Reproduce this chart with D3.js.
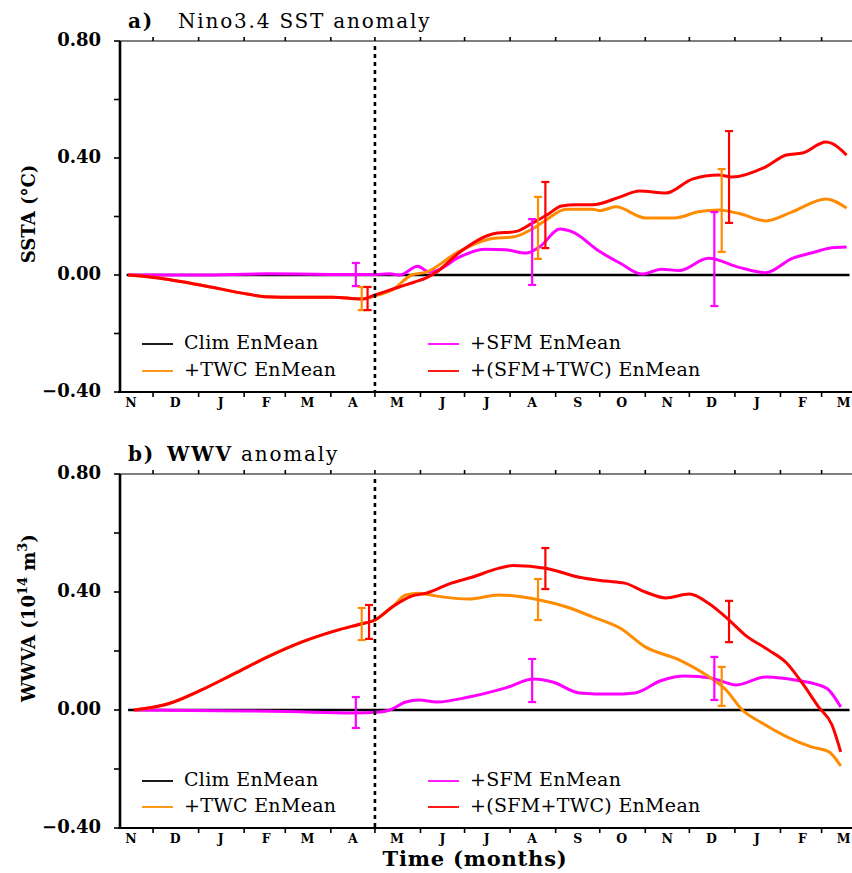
<!DOCTYPE html>
<html>
<head>
<meta charset="utf-8">
<script src="https://cdn.jsdelivr.net/npm/d3@7"></script>
<style>
  body { margin: 0; background: #fff; }
  svg { display: block; font-family: 'DejaVu Serif', serif; }
</style>
</head>
<body>
<svg id="chart" width="852" height="873"></svg>
<script>
'use strict';

// month letters, centred on each month (Nov 2001 .. Mar 2003)
const monthLabels = ['N', 'D', 'J', 'F', 'M', 'A', 'M', 'J', 'J', 'A', 'S', 'O', 'N', 'D', 'J', 'F', 'M'];
const yTicks = [-0.4, -0.2, 0, 0.2, 0.4, 0.6, 0.8];
const legendLabels = ['Clim EnMean', '+TWC EnMean', '+SFM EnMean', '+(SFM+TWC) EnMean'];
const seriesKeys = ['clim', 'twc', 'sfm', 'both'];
const seriesColors = { clim: '#000000', twc: '#ff8c00', sfm: '#ff00ff', both: '#ff0000' };

// a) Nino3.4 SST anomaly
const sstClimDates = ['2001-11-13', '2003-03-20'];
const sstClimValues = [0, 0];
const spinDatesA = ['2001-11-14', '2001-11-29', '2002-01-02', '2002-02-04', '2002-02-15', '2002-03-10', '2002-04-02', '2002-04-22'];
const spinValuesA = [0, -0.007, -0.034, -0.066, -0.074, -0.076, -0.076, -0.082];
const sstTwcDates = ['2002-05-01', '2002-05-13', '2002-05-26', '2002-06-05', '2002-06-27', '2002-07-20', '2002-08-03', '2002-08-17', '2002-08-26', '2002-09-08', '2002-09-26', '2002-10-01', '2002-10-12', '2002-11-01', '2002-11-21', '2002-12-07', '2002-12-21', '2003-01-04', '2003-01-22', '2003-02-09', '2003-03-04', '2003-03-18'];
const sstTwcValues = [-0.072, -0.05, 0, 0.01, 0.08, 0.125, 0.13, 0.16, 0.19, 0.225, 0.225, 0.22, 0.233, 0.195, 0.195, 0.216, 0.222, 0.21, 0.185, 0.216, 0.26, 0.229];
const sstSfmDates = ['2001-11-14', '2002-01-02', '2002-02-17', '2002-04-01', '2002-05-01', '2002-05-11', '2002-05-18', '2002-05-30', '2002-06-07', '2002-06-13', '2002-06-27', '2002-07-15', '2002-07-29', '2002-08-12', '2002-08-21', '2002-09-04', '2002-09-12', '2002-10-01', '2002-10-15', '2002-10-30', '2002-11-12', '2002-11-24', '2002-12-14', '2003-01-04', '2003-01-22', '2003-02-09', '2003-02-22', '2003-03-08', '2003-03-18'];
const sstSfmValues = [0, 0, 0.004, 0.002, 0.002, 0.004, 0, 0.03, 0.01, 0.017, 0.06, 0.088, 0.086, 0.075, 0.096, 0.157, 0.148, 0.08, 0.04, 0.003, 0.02, 0.015, 0.057, 0.026, 0.008, 0.057, 0.075, 0.093, 0.096];
const sstBothDates = ['2002-05-01', '2002-05-18', '2002-05-28', '2002-06-05', '2002-06-12', '2002-06-27', '2002-07-20', '2002-08-06', '2002-08-17', '2002-08-26', '2002-09-05', '2002-09-15', '2002-09-26', '2002-10-15', '2002-10-28', '2002-11-15', '2002-12-03', '2002-12-21', '2002-12-30', '2003-01-22', '2003-02-05', '2003-02-16', '2003-03-04', '2003-03-08', '2003-03-18'];
const sstBothValues = [-0.068, -0.04, -0.024, -0.01, 0.01, 0.075, 0.14, 0.15, 0.18, 0.205, 0.236, 0.24, 0.24, 0.267, 0.287, 0.28, 0.328, 0.342, 0.335, 0.37, 0.41, 0.417, 0.455, 0.45, 0.41];
const sstErrSeries = ['sfm', 'twc', 'both', 'sfm', 'twc', 'both', 'sfm', 'twc', 'both'];
const sstErrDates = ['2002-04-18', '2002-04-22', '2002-04-26', '2002-08-16', '2002-08-20', '2002-08-25', '2002-12-18', '2002-12-23', '2002-12-28'];
const sstErrLow = [-0.038, -0.12, -0.12, -0.034, 0.055, 0.092, -0.106, 0.079, 0.178];
const sstErrHigh = [0.041, -0.041, -0.041, 0.191, 0.267, 0.318, 0.215, 0.362, 0.492];

// b) WWV anomaly
const wwvClimDates = ['2001-11-14', '2003-03-20'];
const wwvClimValues = [0, 0];
const spinDatesB = ['2001-11-18', '2001-12-12', '2002-01-03', '2002-01-26', '2002-02-17', '2002-03-12', '2002-04-05', '2002-04-20', '2002-05-01', '2002-05-13'];
const spinValuesB = [0, 0.022, 0.068, 0.125, 0.18, 0.23, 0.27, 0.29, 0.305, 0.35];
const wwvTwcDates = ['2002-05-22', '2002-05-31', '2002-06-12', '2002-07-04', '2002-07-24', '2002-08-21', '2002-09-08', '2002-09-26', '2002-10-15', '2002-11-01', '2002-11-24', '2002-12-12', '2002-12-26', '2003-01-06', '2003-01-18', '2003-02-05', '2003-02-22', '2003-03-06', '2003-03-14'];
const wwvTwcValues = [0.39, 0.396, 0.386, 0.376, 0.39, 0.373, 0.35, 0.316, 0.277, 0.214, 0.17, 0.12, 0.068, 0, -0.04, -0.09, -0.125, -0.142, -0.19];
const wwvSfmDates = ['2001-11-18', '2002-02-04', '2002-03-03', '2002-04-16', '2002-05-04', '2002-05-11', '2002-05-22', '2002-05-31', '2002-06-12', '2002-07-04', '2002-07-29', '2002-08-17', '2002-08-30', '2002-09-17', '2002-10-09', '2002-10-25', '2002-11-12', '2002-11-28', '2002-12-16', '2003-01-02', '2003-01-22', '2003-02-13', '2003-03-04', '2003-03-14'];
const wwvSfmValues = [0, -0.003, -0.005, -0.01, -0.007, 0, 0.027, 0.034, 0.027, 0.044, 0.075, 0.105, 0.095, 0.058, 0.054, 0.058, 0.1, 0.115, 0.108, 0.085, 0.112, 0.1, 0.075, 0.01];
const wwvBothDates = ['2002-05-26', '2002-06-05', '2002-06-22', '2002-07-06', '2002-07-24', '2002-08-03', '2002-08-26', '2002-09-17', '2002-10-05', '2002-10-18', '2002-11-01', '2002-11-15', '2002-12-01', '2002-12-14', '2002-12-28', '2003-01-08', '2003-01-24', '2003-02-05', '2003-02-16', '2003-02-27', '2003-03-08', '2003-03-14'];
const wwvBothValues = [0.386, 0.396, 0.43, 0.45, 0.48, 0.49, 0.48, 0.45, 0.437, 0.43, 0.4, 0.38, 0.393, 0.362, 0.305, 0.254, 0.203, 0.16, 0.09, 0.01, -0.05, -0.142];
const wwvErrSeries = ['sfm', 'twc', 'both', 'sfm', 'twc', 'both', 'sfm', 'twc', 'both'];
const wwvErrDates = ['2002-04-18', '2002-04-22', '2002-04-27', '2002-08-16', '2002-08-20', '2002-08-25', '2002-12-18', '2002-12-23', '2002-12-28'];
const wwvErrLow = [-0.061, 0.237, 0.241, 0.027, 0.305, 0.41, 0.034, 0.014, 0.23];
const wwvErrHigh = [0.044, 0.346, 0.356, 0.173, 0.444, 0.549, 0.18, 0.146, 0.37];

const parseDate = d3.timeParse('%Y-%m-%d');
const svg = d3.select('#chart');

const x = d3.scaleTime()
	.domain([new Date(2001, 10, 8, 12), new Date(2003, 2, 21)])
	.range([120, 851]);

function zip(dates, values) {
	return dates.map((d, i) => ({ date: parseDate(d), value: values[i] }));
}

function drawPanel(cfg) {
	const y = d3.scaleLinear().domain([-0.4, 0.8]).range([cfg.bottom, cfg.top]);
	const g = svg.append('g');

	// top axis with month ticks
	const monthStarts = d3.timeMonth.range(new Date(2001, 11, 1), new Date(2003, 2, 2));
	g.append('line')
		.attr('x1', 120).attr('x2', 852)
		.attr('y1', cfg.top).attr('y2', cfg.top)
		.attr('stroke', '#555').attr('stroke-width', 1.6);
	g.selectAll('.ttick').data(monthStarts).join('line')
		.attr('x1', d => x(d)).attr('x2', d => x(d))
		.attr('y1', cfg.top).attr('y2', cfg.top - 4)
		.attr('stroke', '#000').attr('stroke-width', 1.6);

	// bottom axis
	g.append('line')
		.attr('x1', 118).attr('x2', 852)
		.attr('y1', cfg.bottom).attr('y2', cfg.bottom)
		.attr('stroke', '#000').attr('stroke-width', 2);
	g.selectAll('.btick').data(monthStarts).join('line')
		.attr('x1', d => x(d)).attr('x2', d => x(d))
		.attr('y1', cfg.bottom).attr('y2', cfg.bottom + 5)
		.attr('stroke', '#000').attr('stroke-width', 1.6);
	const monthMids = d3.timeMonth.range(new Date(2001, 10, 1), new Date(2003, 3, 1)).map(d => d3.timeDay.offset(d, 15));
	g.selectAll('.mlab').data(monthMids).join('text')
		.attr('x', d => x(d))
		.attr('y', cfg.bottom + 11)
		.attr('text-anchor', 'middle')
		.attr('dominant-baseline', 'middle')
		.attr('font-size', 12.5)
		.attr('font-weight', 'bold')
		.text((d, i) => monthLabels[i]);

	// left axis
	g.append('line')
		.attr('x1', 120).attr('x2', 120)
		.attr('y1', cfg.top).attr('y2', cfg.bottom + 1)
		.attr('stroke', '#000').attr('stroke-width', 2.6);
	g.selectAll('.ytick').data(yTicks).join('line')
		.attr('x1', 114).attr('x2', 120)
		.attr('y1', d => y(d)).attr('y2', d => y(d))
		.attr('stroke', '#000').attr('stroke-width', 1.6);
	g.selectAll('.ylab').data(yTicks.filter((d, i) => i % 2 === 0)).join('text')
		.attr('x', 101)
		.attr('y', d => y(d))
		.attr('text-anchor', 'end')
		.attr('dominant-baseline', 'middle')
		.attr('font-size', 18)
		.attr('font-weight', 'bold')
		.text(d => d3.format('.2f')(d));

	// series lines
	const line = d3.line()
		.x(d => x(d.date))
		.y(d => y(d.value))
		.curve(d3.curveMonotoneX);
	for (const key of ['clim', 'sfm', 'twc', 'both']) {
		g.append('path')
			.attr('d', line(cfg.series[key]))
			.attr('fill', 'none')
			.attr('stroke', seriesColors[key])
			.attr('stroke-width', key === 'clim' ? 2.6 : 3)
			.attr('stroke-linejoin', 'round');
	}

	// error bars
	cfg.errDates.forEach((d, i) => {
		const xp = x(parseDate(d));
		const col = seriesColors[cfg.errSeries[i]];
		const eg = g.append('g').attr('stroke', col).attr('stroke-width', 2.2);
		eg.append('line').attr('x1', xp).attr('x2', xp).attr('y1', y(cfg.errLow[i])).attr('y2', y(cfg.errHigh[i]));
		eg.append('line').attr('x1', xp - 4).attr('x2', xp + 4).attr('y1', y(cfg.errLow[i])).attr('y2', y(cfg.errLow[i]));
		eg.append('line').attr('x1', xp - 4).attr('x2', xp + 4).attr('y1', y(cfg.errHigh[i])).attr('y2', y(cfg.errHigh[i]));
	});

	// dotted line at start of forecast
	g.append('line')
		.attr('x1', x(new Date(2002, 4, 1))).attr('x2', x(new Date(2002, 4, 1)))
		.attr('y1', cfg.top + 5).attr('y2', cfg.bottom)
		.attr('stroke', '#000').attr('stroke-width', 2.6)
		.attr('stroke-dasharray', '4,4');

	// legend
	const legendPos = [[142, cfg.legendY[0]], [142, cfg.legendY[1]], [428, cfg.legendY[0]], [428, cfg.legendY[1]]];
	seriesKeys.forEach((key, i) => {
		const [lx, ly] = legendPos[i];
		g.append('line')
			.attr('x1', lx).attr('x2', lx + 31)
			.attr('y1', ly).attr('y2', ly)
			.attr('stroke', seriesColors[key]).attr('stroke-width', 1.8);
		g.append('text')
			.attr('x', lx + 42).attr('y', ly)
			.attr('dominant-baseline', 'middle')
			.attr('font-size', 19)
			.attr('letter-spacing', 0.3)
			.text(legendLabels[i]);
	});

	// title
	const title = g.append('text')
		.attr('x', 128).attr('y', cfg.top - 13)
		.attr('font-size', 20)
		.attr('letter-spacing', 1.8);
	title.append('tspan').attr('font-weight', 'bold').text(cfg.titleTag);
	title.append('tspan').attr('x', cfg.titleX).attr('font-weight', cfg.titleBold ? 'bold' : 'normal').text(cfg.titleMain);
	if (cfg.titleRest) {
		title.append('tspan').text(cfg.titleRest);
	}

	// y label
	const yl = g.append('text')
		.attr('transform', `translate(35,${cfg.ylabelY}) rotate(-90)`)
		.attr('text-anchor', 'middle')
		.attr('font-size', 18)
		.attr('font-weight', 'bold');
	cfg.ylabel(yl);
}

drawPanel({
	top: 41, bottom: 392,
	series: {
		clim: zip(sstClimDates, sstClimValues),
		twc: zip(spinDatesA.concat(sstTwcDates), spinValuesA.concat(sstTwcValues)),
		sfm: zip(sstSfmDates, sstSfmValues),
		both: zip(spinDatesA.concat(sstBothDates), spinValuesA.concat(sstBothValues))
	},
	errSeries: sstErrSeries, errDates: sstErrDates, errLow: sstErrLow, errHigh: sstErrHigh,
	legendY: [344, 371],
	titleTag: 'a)', titleX: 178, titleMain: 'Nino3.4 SST anomaly', titleBold: false,
	ylabelY: 214,
	ylabel: t => t.text('SSTA (°C)')
});

drawPanel({
	top: 474, bottom: 828,
	series: {
		clim: zip(wwvClimDates, wwvClimValues),
		twc: zip(spinDatesB.concat(wwvTwcDates), spinValuesB.concat(wwvTwcValues)),
		sfm: zip(wwvSfmDates, wwvSfmValues),
		both: zip(spinDatesB.concat(wwvBothDates), spinValuesB.concat(wwvBothValues))
	},
	errSeries: wwvErrSeries, errDates: wwvErrDates, errLow: wwvErrLow, errHigh: wwvErrHigh,
	legendY: [781, 807],
	titleTag: 'b)', titleX: 167, titleMain: 'WWV', titleBold: true, titleRest: ' anomaly',
	ylabelY: 618,
	ylabel: t => {
		t.append('tspan').text('WWVA (10');
		t.append('tspan').attr('dy', -8).attr('font-size', 13).text('14');
		t.append('tspan').attr('dy', 8).text(' m');
		t.append('tspan').attr('dy', -8).attr('font-size', 13).text('3');
		t.append('tspan').attr('dy', 8).text(')');
	}
});

svg.append('text')
	.attr('x', 475).attr('y', 866)
	.attr('text-anchor', 'middle')
	.attr('font-size', 21)
	.attr('font-weight', 'bold')
	.attr('letter-spacing', 0.8)
	.text('Time (months)');
</script>
</body>
</html>
